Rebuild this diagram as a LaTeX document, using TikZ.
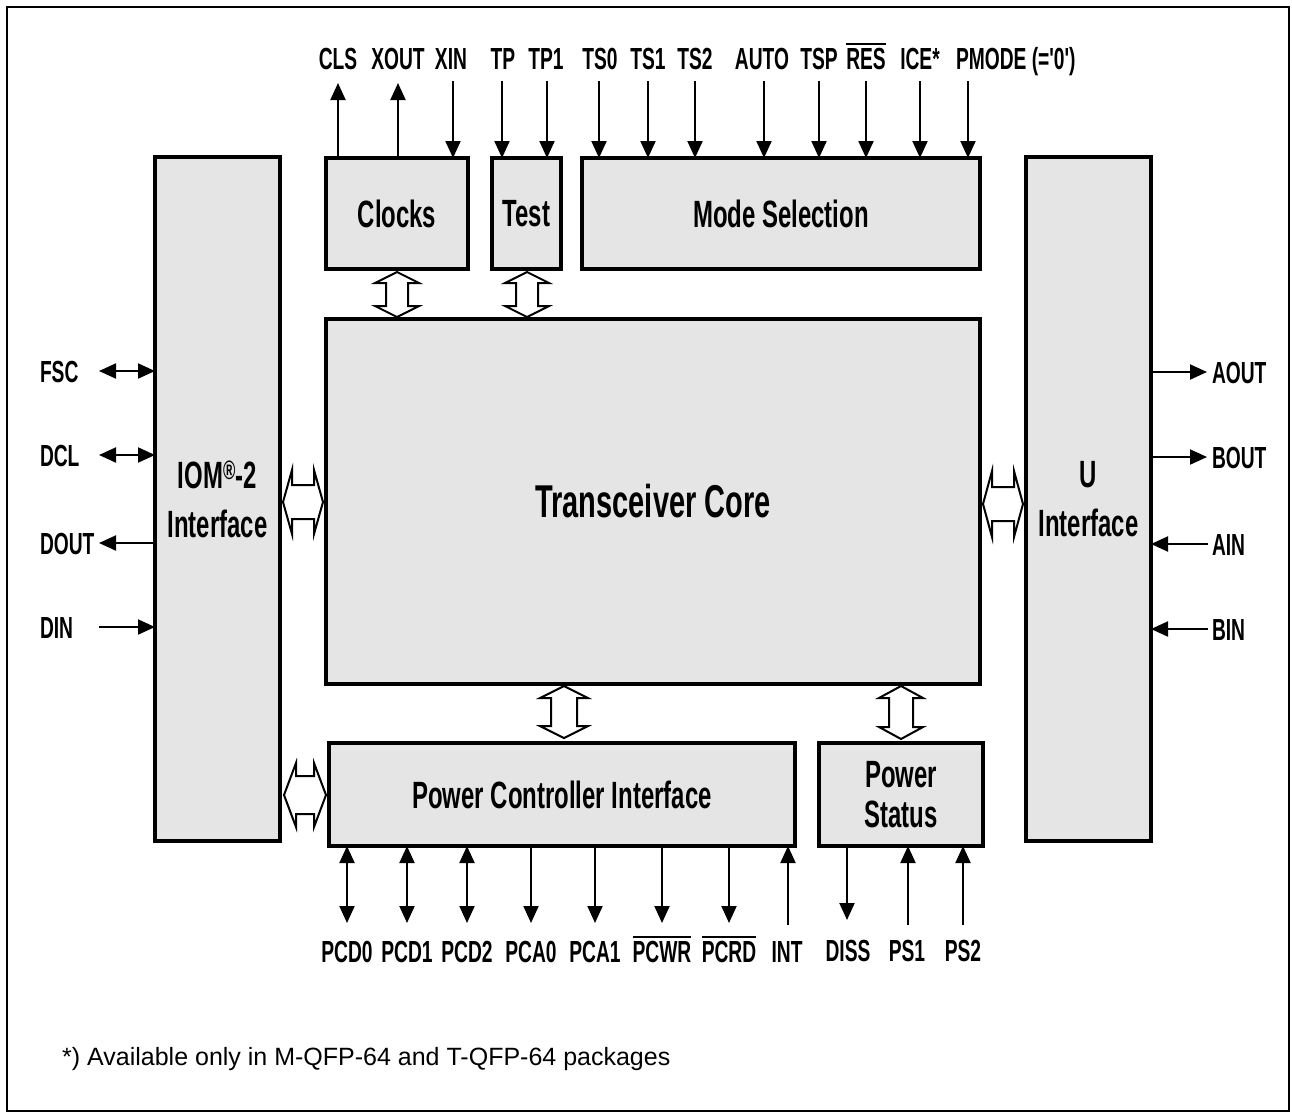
\documentclass[tikz,border=0pt]{standalone}
\usepackage{fontspec}
\setmainfont{Liberation Sans}
\newfontfamily\condfont{Liberation Sans}[FakeStretch=0.63]
\usetikzlibrary{arrows.meta}
\definecolor{boxgray}{gray}{0.9}
\newcommand\lblfont{\condfont\bfseries\fontsize{30.5}{36}\selectfont}
\newcommand\bxfont{\condfont\bfseries\fontsize{38}{46}\selectfont}
\newcommand\corefont{\condfont\bfseries\fontsize{46}{54}\selectfont}
\newcommand\footfont{\fontsize{25}{30}\selectfont}
\newcommand\barx[1]{\vbox{\hrule height 2pt\kern 3pt\hbox{#1}}}
\newcommand\dblV[6]{%
  \draw[hollow] (#1,#2) -- ({#1+#4},{#2+#6}) -- ({#1+#5},{#2+#6}) -- ({#1+#5},{#3-#6}) -- ({#1+#4},{#3-#6}) -- (#1,#3) -- ({#1-#4},{#3-#6}) -- ({#1-#5},{#3-#6}) -- ({#1-#5},{#2+#6}) -- ({#1-#4},{#2+#6}) -- cycle;}
\newcommand\dblH[6]{%
  \draw[hollow] (#2,#1) -- ({#2+#6},{#1-#4}) -- ({#2+#6},{#1-#5}) -- ({#3-#6},{#1-#5}) -- ({#3-#6},{#1-#4}) -- (#3,#1) -- ({#3-#6},{#1+#4}) -- ({#3-#6},{#1+#5}) -- ({#2+#6},{#1+#5}) -- ({#2+#6},{#1+#4}) -- cycle;}
\begin{document}
\begin{tikzpicture}[x=1pt,y=-1pt,
  box/.style={draw, line width=4pt, fill=boxgray, inner sep=0pt, outer sep=0pt, font=\bxfont, align=center},
  sig/.style={line width=2pt, -{Triangle[length=17pt,width=15pt]}},
  bid/.style={line width=2pt, {Triangle[length=17pt,width=15pt]}-{Triangle[length=17pt,width=15pt]}},
  lbl/.style={font=\lblfont, inner sep=0pt, outer sep=0pt, text height=22pt, text depth=0pt},
  hollow/.style={draw, line width=2pt, fill=white, line join=miter},
  frame/.style={draw, line width=2pt}]
\useasboundingbox (0,0) rectangle (1292,1112);
\draw[frame] (7,7) rectangle (1289,1111);

% boxes
\node[box, minimum width=125pt, minimum height=684pt, font=\condfont\bfseries\fontsize{38}{49}\selectfont] (iom) at (217.5,499) {IOM\textsuperscript{®}-2\\Interface};
\node[box, minimum width=125pt, minimum height=684pt, font=\condfont\bfseries\fontsize{38}{49}\selectfont] (uif) at (1088.5,499) {U\\Interface};
\node[box, minimum width=142pt, minimum height=111pt] (clk) at (397,213.5) {Clocks};
\node[box, minimum width=69pt, minimum height=111pt] (tst) at (526.5,213.5) {Test};
\node[box, minimum width=398pt, minimum height=111pt] (mode) at (781,213.5) {Mode Selection};
\node[box, minimum width=654pt, minimum height=365pt, font=\corefont] (core) at (653,501.5) {Transceiver Core};
\node[box, minimum width=466pt, minimum height=103pt] (pci) at (562,794.5) {Power Controller Interface};
\node[box, minimum width=164pt, minimum height=103pt, font=\condfont\bfseries\fontsize{38}{40}\selectfont] (ps) at (901,794.5) {Power\\Status};

% hollow bus arrows
\dblV{397}{272}{317}{22}{11}{11}
\dblV{527}{272}{317}{22}{11}{11}
\dblV{564}{686}{738}{24}{13}{12}
\dblV{901}{686}{739}{22}{12}{12}
\dblH{502}{283}{323}{32}{17}{9}
\dblH{504}{983}{1023}{33}{17}{9}
\dblH{795}{284}{326}{32}{19}{12}

% top labels
\node[lbl] (tCLS) at (338,58) {CLS};
\node[lbl] (tXOUT) at (398,58) {XOUT};
\node[lbl] (tXIN) at (451,58) {XIN};
\node[lbl] (tTP) at (503,58) {TP};
\node[lbl] (tTPa) at (546,58) {TP1};
\node[lbl] (tTS0) at (600,58) {TS0};
\node[lbl] (tTS1) at (648,58) {TS1};
\node[lbl] (tTS2) at (695,58) {TS2};
\node[lbl] (tAUTO) at (762,58) {AUTO};
\node[lbl] (tTSP) at (819,58) {TSP};
\node[lbl] (tRES) at (866,58) {\barx{RES}};
\node[lbl] (tICE) at (920,58) {ICE*};
\node[lbl, anchor=west] (tPM) at (956,58) {PMODE (='0')};
\coordinate (pmx) at (968,81);

% top arrows
\draw[sig] (clk.north -| 338,0) -- (338,83);
\draw[sig] (clk.north -| 398,0) -- (398,83);
\draw[sig] (453,81) -- (clk.north -| 453,0);
\draw[sig] (502,81) -- (tst.north -| 502,0);
\draw[sig] (547,81) -- (tst.north -| 547,0);
\foreach \xx in {599,648,695,764,819,866,920} {
  \draw[sig] (\xx,81) -- (mode.north -| \xx,0);
}
\draw[sig] (pmx) -- (mode.north -| pmx);

% left signals
\node[lbl, anchor=west] (lFSC) at (40,371) {FSC};
\node[lbl, anchor=west] (lDCL) at (40,455) {DCL};
\node[lbl, anchor=west] (lDOUT) at (40,543) {DOUT};
\node[lbl, anchor=west] (lDIN) at (40,627) {DIN};
\draw[bid] (99,371) -- (iom.west |- 0,371);
\draw[bid] (99,455) -- (iom.west |- 0,455);
\draw[sig] (iom.west |- 0,543) -- (99,543);
\draw[sig] (99,627) -- (iom.west |- 0,627);

% right signals
\node[lbl, anchor=west] (rAOUT) at (1212,372) {AOUT};
\node[lbl, anchor=west] (rBOUT) at (1212,457) {BOUT};
\node[lbl, anchor=west] (rAIN) at (1212,544) {AIN};
\node[lbl, anchor=west] (rBIN) at (1212,629) {BIN};
\draw[sig] (uif.east |- 0,372) -- (1207,372);
\draw[sig] (uif.east |- 0,457) -- (1207,457);
\draw[sig] (1208,544) -- (uif.east |- 0,544);
\draw[sig] (1208,629) -- (uif.east |- 0,629);

% bottom labels
\node[lbl] (bPCD0) at (347,951) {PCD0};
\node[lbl] (bPCD1) at (407,951) {PCD1};
\node[lbl] (bPCD2) at (467,951) {PCD2};
\node[lbl] (bPCA0) at (531,951) {PCA0};
\node[lbl] (bPCA1) at (595,951) {PCA1};
\node[lbl] (bPCWR) at (662,951) {\barx{PCWR}};
\node[lbl] (bPCRD) at (729,951) {\barx{PCRD}};
\node[lbl] (bINT) at (787,951) {INT};
\node[lbl] (bDISS) at (848,950) {DISS};
\node[lbl] (bPS1) at (907,950) {PS1};
\node[lbl] (bPS2) at (963,950) {PS2};

% bottom arrows
\foreach \xx in {347,407,467} { \draw[bid] (pci.south -| \xx,0) -- (\xx,923); }
\foreach \xx in {531,595,662,729} { \draw[sig] (pci.south -| \xx,0) -- (\xx,923); }
\draw[sig] (788,925) -- (pci.south -| 788,0);
\draw[sig] (ps.south -| 847,0) -- (847,920);
\draw[sig] (908,925) -- (ps.south -| 908,0);
\draw[sig] (963,925) -- (ps.south -| 963,0);

% footnote
\node[anchor=base west, font=\footfont, inner sep=0pt] (fn) at (62,1065) {*) Available only in M-QFP-64 and T-QFP-64 packages};
\end{tikzpicture}
\end{document}
